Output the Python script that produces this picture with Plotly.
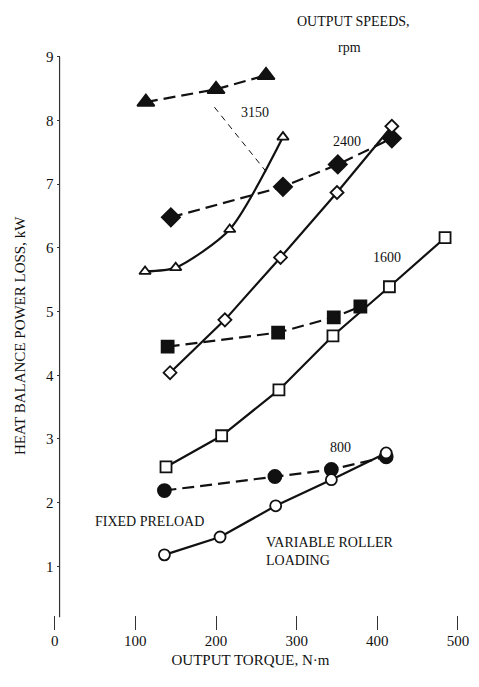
import plotly.graph_objects as go

# ---- data (output torque N·m, heat-balance power loss kW) ----
x3150_fixed = [113, 200, 262]
y3150_fixed = [8.29, 8.49, 8.71]
x3150_var = [112, 150, 217, 283]
y3150_var = [5.63, 5.69, 6.29, 7.74]

x2400_fixed = [144, 283, 351, 418]
y2400_fixed = [6.48, 6.96, 7.31, 7.72]
x2400_var = [143, 211, 280, 350, 418]
y2400_var = [4.04, 4.87, 5.85, 6.87, 7.91]

x1600_fixed = [140, 277, 346, 379]
y1600_fixed = [4.45, 4.67, 4.91, 5.08]
x1600_var = [138, 207, 278, 345, 415, 484]
y1600_var = [2.56, 3.05, 3.77, 4.62, 5.39, 6.16]

x800_fixed = [136, 273, 343, 411]
y800_fixed = [2.19, 2.41, 2.52, 2.72]
x800_var = [136, 205, 274, 343, 411]
y800_var = [1.18, 1.46, 1.95, 2.36, 2.78]

x_ticks = [0, 100, 200, 300, 400, 500]
y_ticks = [1, 2, 3, 4, 5, 6, 7, 8, 9]

# leader line from the 3150 label
leader_x = [198, 262]
leader_y = [8.21, 7.20]

FONT = "Liberation Serif"
INK = "#111111"

fig = go.Figure()

def add(x, y, symbol, fixed, spline=False, size=12):
    fig.add_trace(go.Scatter(
        x=x, y=y, mode="lines+markers",
        line=dict(color=INK, width=2.2,
                  dash="12px,6px" if fixed else "solid",
                  shape="spline" if spline else "linear",
                  smoothing=0.7),
        marker=dict(symbol=symbol, size=size, color=INK if fixed else "white",
                    line=dict(color=INK, width=1.8)),
        showlegend=False, cliponaxis=False))

add(x3150_fixed, y3150_fixed, "triangle-up", True, size=15)
add(x3150_var, y3150_var, "triangle-up", False, spline=True, size=10)
add(x2400_fixed, y2400_fixed, "diamond", True, size=14)
add(x2400_var, y2400_var, "diamond", False, size=10)
add(x1600_fixed, y1600_fixed, "square", True, size=12)
add(x1600_var, y1600_var, "square", False, size=11)
add(x800_fixed, y800_fixed, "circle", True, size=13)
add(x800_var, y800_var, "circle", False, size=11)

# leader line
fig.add_trace(go.Scatter(x=leader_x, y=leader_y, mode="lines",
                         line=dict(color=INK, width=1, dash="6px,5px"),
                         showlegend=False, hoverinfo="skip"))

YAXIS_X = 6
fig.add_shape(type="line", xref="x", yref="y", x0=YAXIS_X, x1=YAXIS_X,
              y0=0.2, y1=9, line=dict(color="#333333", width=1.2))

XMIN, XMAX = -19.5, 505
pos = (YAXIS_X - XMIN) / (XMAX - XMIN)

fig.update_layout(
    width=479, height=687,
    margin=dict(l=39, r=10, t=25, b=57),
    paper_bgcolor="white", plot_bgcolor="white",
    font=dict(family=FONT, color=INK, size=15),
    xaxis=dict(range=[XMIN, XMAX], tickvals=x_ticks,
               ticktext=[str(v) for v in x_ticks],
               ticks="inside", ticklen=14, tickwidth=1.2, tickcolor="#333333",
               showline=False, showgrid=False, zeroline=False,
               tickfont=dict(size=15, family=FONT),
               title=dict(text="OUTPUT TORQUE, N·m", standoff=6,
                          font=dict(size=15, family=FONT))),
    yaxis=dict(range=[0, 9.5], tickvals=y_ticks, anchor="free", position=pos,
               ticks="outside", ticklen=3, tickcolor="#333333",
               showline=False, showgrid=False, zeroline=False,
               tickfont=dict(size=15, family=FONT)),
)

ann = [
    dict(x=248, y=8.13, text="3150"),
    dict(x=362, y=7.67, text="2400"),
    dict(x=412, y=5.85, text="1600"),
    dict(x=354, y=2.86, text="800"),
    dict(x=118, y=1.70, text="FIXED PRELOAD"),
]
for a in ann:
    fig.add_annotation(xref="x", yref="y", showarrow=False,
                       font=dict(size=14, family=FONT), **a)
fig.add_annotation(xref="x", yref="paper", x=370, y=(630 - 22) / 605,
                   xanchor="center", yanchor="middle",
                   showarrow=False, text="OUTPUT SPEEDS,",
                   font=dict(size=14, family=FONT))
fig.add_annotation(xref="x", yref="paper", x=366, y=(630 - 47) / 605,
                   xanchor="center", yanchor="middle",
                   showarrow=False, text="rpm",
                   font=dict(size=14, family=FONT))
fig.add_annotation(xref="x", yref="y", x=260, y=1.23, xanchor="left",
                   align="left", showarrow=False,
                   text="VARIABLE ROLLER<br>LOADING",
                   font=dict(size=14, family=FONT))
fig.add_annotation(xref="paper", yref="y", x=(19 - 39) / 430, y=4.62,
                   xanchor="center", yanchor="middle",
                   textangle=-90, showarrow=False,
                   text="HEAT BALANCE POWER LOSS, kW",
                   font=dict(size=15, family=FONT))

fig.write_html("out.html")
